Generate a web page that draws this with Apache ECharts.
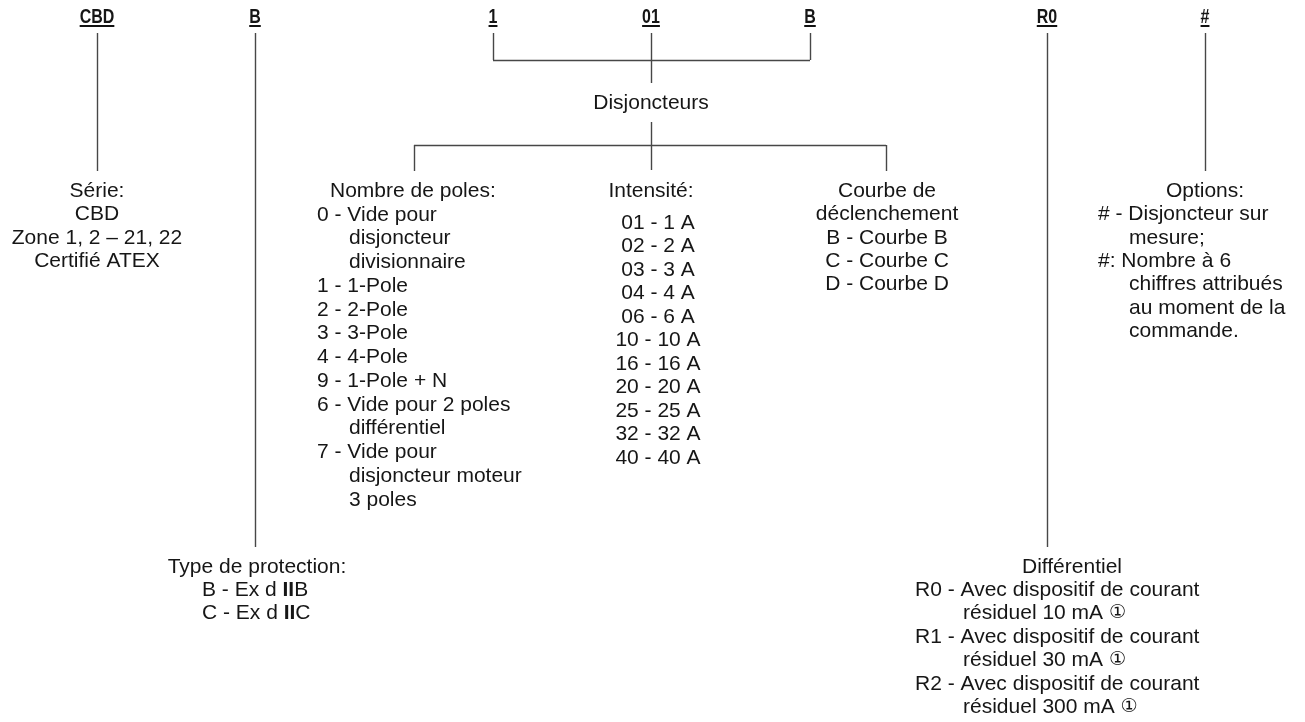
<!DOCTYPE html>
<html>
<head>
<meta charset="utf-8">
<script src="https://cdn.jsdelivr.net/npm/echarts@6/dist/echarts.min.js"></script>
<style>
html,body{margin:0;padding:0;background:#fff;}
#chart{width:1305px;height:722px;}
</style>
</head>
<body>
<div id="chart"></div>
<script>
// ---------- DATA (text content) ----------
const codes = ['CBD', 'B', '1', '01', 'B', 'R0', '#'];
const serieLines = ['Série:', 'CBD', 'Zone 1, 2 – 21, 22', 'Certifié ATEX'];
const disjTitle = 'Disjoncteurs';
const polesTitle = 'Nombre de poles:';
const polesLines = ['0 - Vide pour', 'disjoncteur', 'divisionnaire', '1 - 1-Pole', '2 - 2-Pole', '3 - 3-Pole', '4 - 4-Pole', '9 - 1-Pole + N', '6 - Vide pour 2 poles', 'différentiel', '7 - Vide pour', 'disjoncteur moteur', '3 poles'];
const intensiteTitle = 'Intensité:';
const intensiteLines = ['01 - 1 A', '02 - 2 A', '03 - 3 A', '04 - 4 A', '06 - 6 A', '10 - 10 A', '16 - 16 A', '20 - 20 A', '25 - 25 A', '32 - 32 A', '40 - 40 A'];
const courbeLines = ['Courbe de', 'déclenchement', 'B - Courbe B', 'C - Courbe C', 'D - Courbe D'];
const optionsTitle = 'Options:';
const optionsLines = ['# - Disjoncteur sur', 'mesure;', '#: Nombre à 6', 'chiffres attribués', 'au moment de la', 'commande.'];
const protectionTitle = 'Type de protection:';
const protectionLines = ['B - Ex d IIB', 'C - Ex d IIC'];
const differentielTitle = 'Différentiel';
const differentielLines = ['R0 - Avec dispositif de courant', 'résiduel 10 mA ①', 'R1 - Avec dispositif de courant', 'résiduel 30 mA ①', 'R2 - Avec dispositif de courant', 'résiduel 300 mA ①'];

// ---------- LAYOUT ----------
const W = 1305, H = 722;
const codeX = [97, 255, 493, 651, 810, 1047, 1205];
const codeY = 17, underY = 26, lineTop = 33;
const FONT = '"Liberation Sans", Arial, Helvetica, sans-serif';
const FS = 21;
const CODE_FONT = 'bold 20px "Liberation Sans", Arial, sans-serif';
const CODE_SCALE_X = 0.8;
const TEXT_COLOR = '#161616';
const LINE_COLOR = '#474747';

const isItem = s => /^(\S+ - |#: )/.test(s);

// text items: [x, y, text, align, fontKind]
const texts = [];
codes.forEach((c, i) => texts.push([codeX[i], codeY, c, 'center', 'code']));
serieLines.forEach((s, i) => texts.push([codeX[0], 191 + i * 23.4, s, 'center']));
texts.push([codeX[3], 103, disjTitle, 'center']);
texts.push([330, 191, polesTitle, 'left']);
polesLines.forEach((s, i) => texts.push([isItem(s) ? 317 : 349, 191 + (i + 1) * 23.75, s, 'left']));
texts.push([codeX[3], 191, intensiteTitle, 'center']);
intensiteLines.forEach((s, i) => texts.push([658, 223 + i * 23.5, s, 'center']));
courbeLines.forEach((s, i) => texts.push([887, 191 + i * 23.4, s, 'center']));
texts.push([codeX[6], 191, optionsTitle, 'center']);
optionsLines.forEach((s, i) => texts.push([isItem(s) ? 1098 : 1129, 191 + (i + 1) * 23.4, s, 'left']));
texts.push([257, 567, protectionTitle, 'center']);
protectionLines.forEach((s, i) => texts.push([202, 590 + i * 23.4, s, 'left']));
texts.push([1072, 567, differentielTitle, 'center']);
differentielLines.forEach((s, i) => texts.push([isItem(s) ? 915 : 963, 590 + i * 23.5, s, 'left']));

// underline widths from real text measurement
const mctx = document.createElement('canvas').getContext('2d');
mctx.font = CODE_FONT;
const underlines = codes.map((c, i) => {
  const w = mctx.measureText(c).width * CODE_SCALE_X;
  return { coords: [[codeX[i] - w / 2, underY], [codeX[i] + w / 2, underY]] };
});

// connector segments anchored to code positions
const seg = (x1, y1, x2, y2) => ({ coords: [[x1, y1], [x2, y2]] });
const connectors = [
  seg(codeX[0], lineTop, codeX[0], 171),
  seg(codeX[1], lineTop, codeX[1], 547),
  seg(codeX[2], lineTop, codeX[2], 60),
  seg(codeX[4], lineTop, codeX[4], 60),
  seg(codeX[2], 60, codeX[4], 60),
  seg(codeX[3], lineTop, codeX[3], 83),
  seg(codeX[3], 122, codeX[3], 170),
  seg(414, 145, 886, 145),
  seg(414, 145, 414, 171),
  seg(886, 145, 886, 171),
  seg(codeX[5], lineTop, codeX[5], 547),
  seg(codeX[6], lineTop, codeX[6], 171)
];

const chart = echarts.init(document.getElementById('chart'), null, { renderer: 'canvas' });
chart.setOption({
  animation: false,
  backgroundColor: '#fff',
  grid: { left: 0, right: 0, top: 0, bottom: 0 },
  xAxis: { type: 'value', min: 0, max: W, show: false },
  yAxis: { type: 'value', min: 0, max: H, inverse: true, show: false },
  series: [
    {
      type: 'lines', coordinateSystem: 'cartesian2d', polyline: false,
      lineStyle: { color: LINE_COLOR, width: 1.4, opacity: 1 },
      data: connectors, silent: true
    },
    {
      type: 'lines', coordinateSystem: 'cartesian2d', polyline: false,
      lineStyle: { color: '#111', width: 2, opacity: 1 },
      data: underlines, silent: true
    },
    {
      type: 'custom', coordinateSystem: 'cartesian2d', silent: true,
      data: texts.map(t => [t[0], t[1]]),
      renderItem: function (params, api) {
        const t = texts[params.dataIndex];
        const p = api.coord([t[0], t[1]]);
        const isCode = t[4] === 'code';
        const txt = isCode ? t[2] : t[2].replace(/ II/g, ' {b|II}').replace(/①/g, '{c|①}');
        return {
          type: 'text', x: p[0], y: p[1],
          scaleX: isCode ? CODE_SCALE_X : 1,
          style: {
            text: txt,
            font: isCode ? CODE_FONT : (FS + 'px ' + FONT),
            fill: TEXT_COLOR,
            align: t[3],
            verticalAlign: 'middle',
            rich: {
              b: { fontFamily: FONT, fontSize: FS, fontWeight: 'bold', fill: TEXT_COLOR },
              c: { fontFamily: '"DejaVu Sans", sans-serif', fontSize: 19, fill: TEXT_COLOR }
            }
          }
        };
      }
    }
  ]
});
</script>
</body>
</html>
